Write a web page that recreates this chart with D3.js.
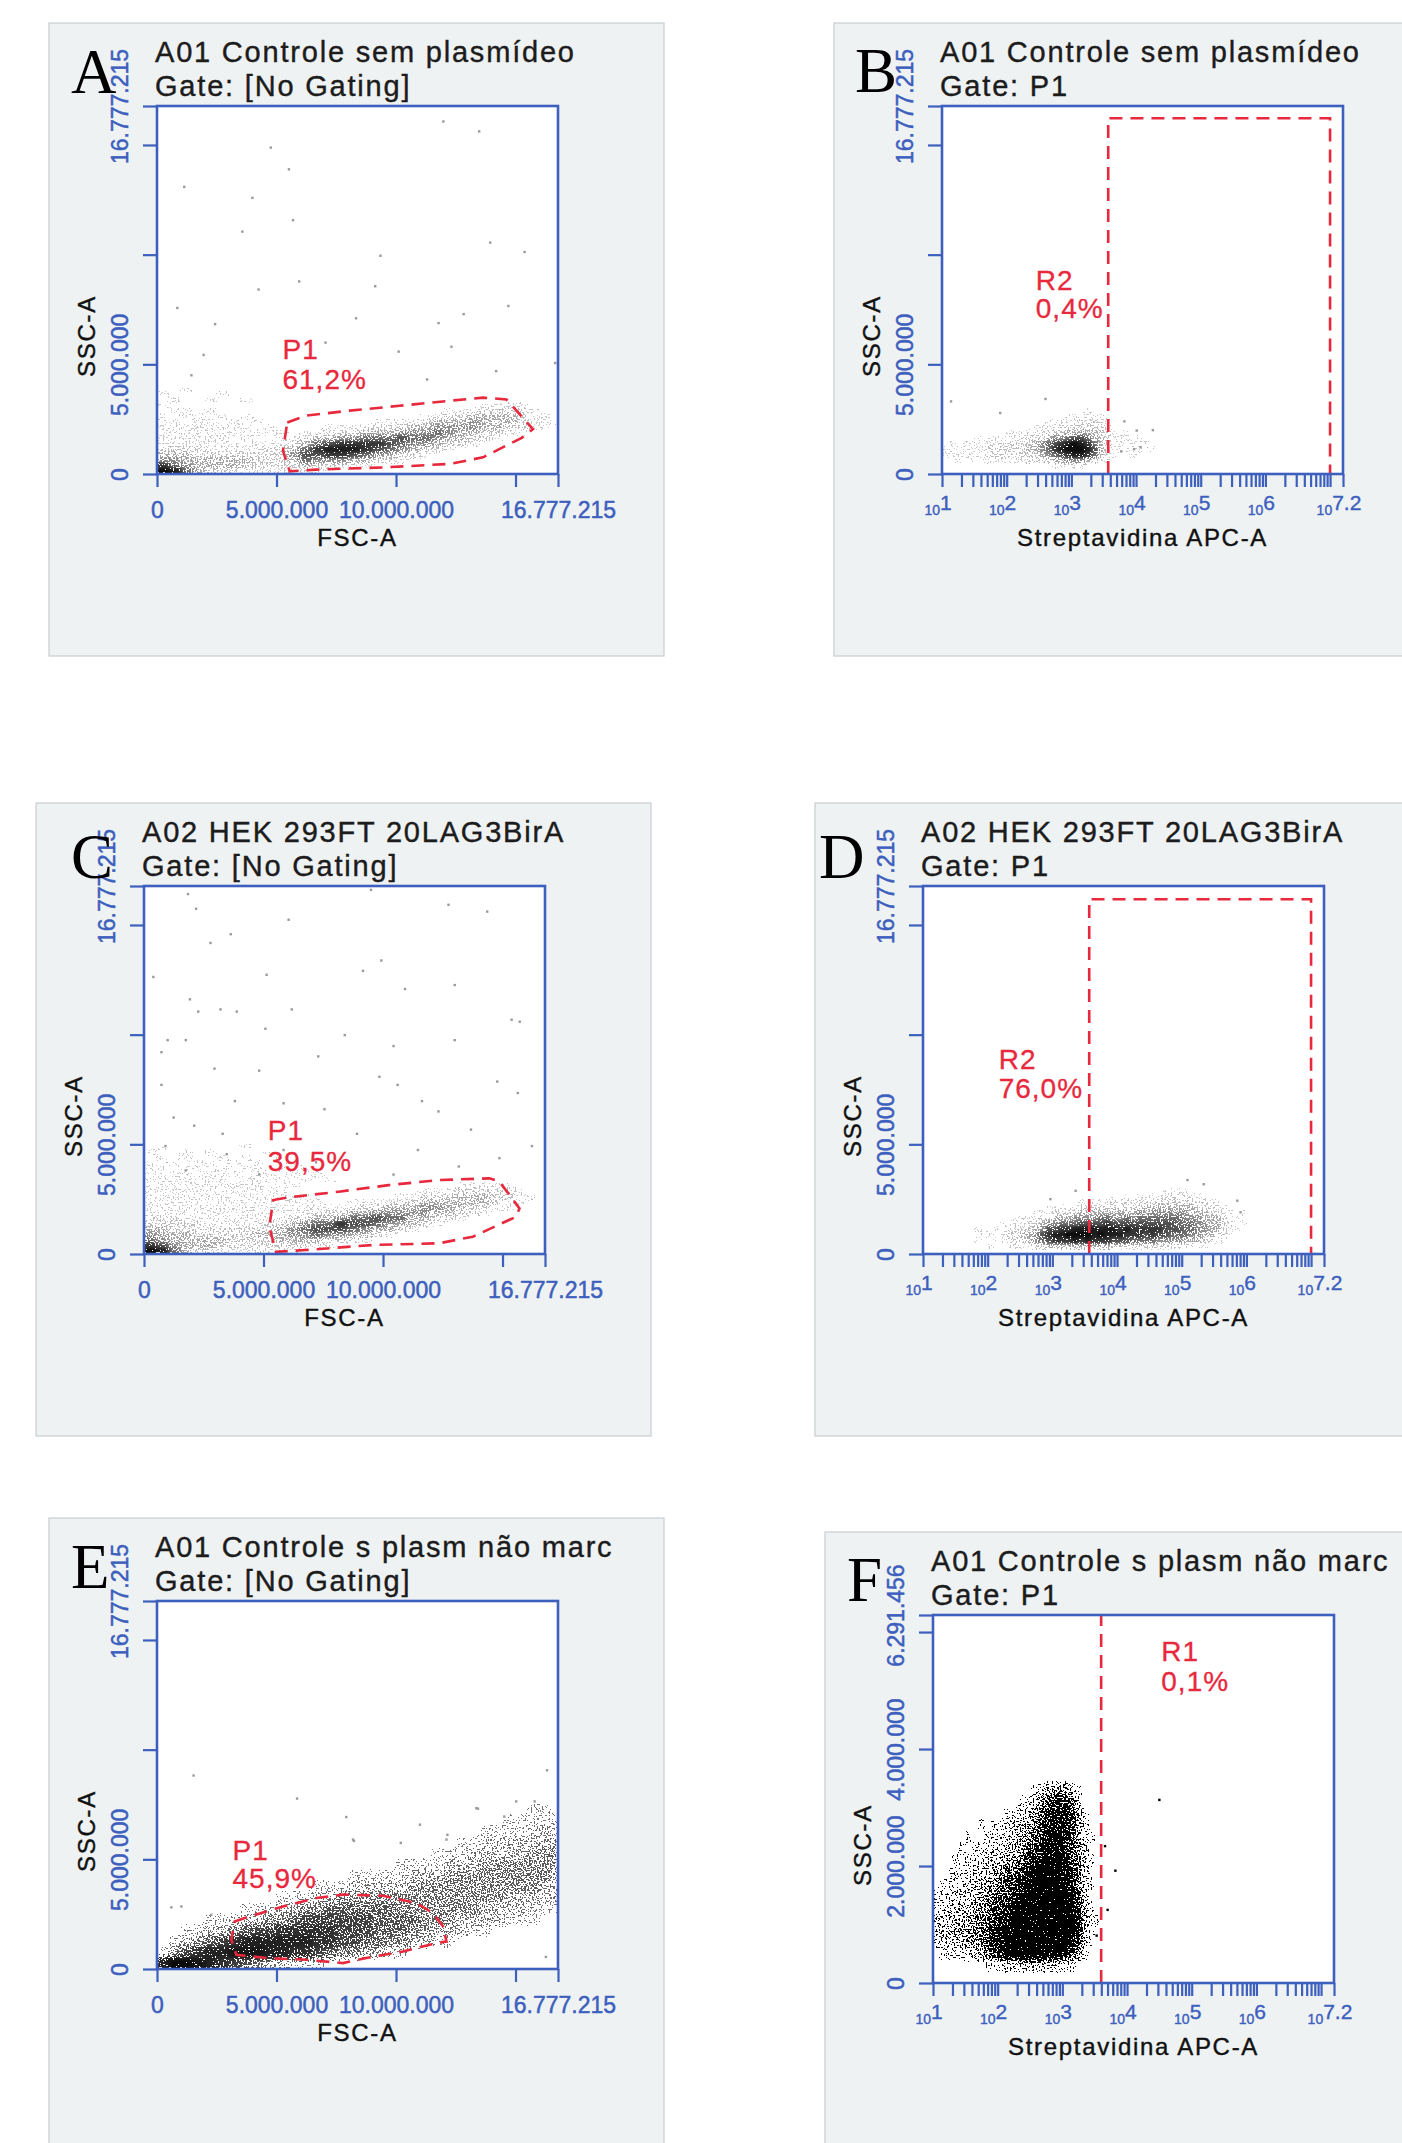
<!DOCTYPE html>
<html>
<head>
<meta charset="utf-8">
<title>Citometria - Streptavidina APC</title>
<script src="https://cdn.jsdelivr.net/npm/d3@7"></script>
<style>
  html, body { margin: 0; padding: 0; background: #ffffff; }
  #chart svg { display: block; }
</style>
</head>
<body>
<div id="chart"></div>
<script>
// ---------- values ----------
const panelLetters = ["A", "B", "C", "D", "E", "F"];
const sampleNames = ["A01 Controle sem plasmídeo", "A01 Controle sem plasmídeo",
                     "A02 HEK 293FT 20LAG3BirA", "A02 HEK 293FT 20LAG3BirA",
                     "A01 Controle s plasm não marc", "A01 Controle s plasm não marc"];
const gateNames = ["Gate: [No Gating]", "Gate: P1", "Gate: [No Gating]", "Gate: P1", "Gate: [No Gating]", "Gate: P1"];
const xTitles = ["FSC-A", "Streptavidina APC-A", "FSC-A", "Streptavidina APC-A", "FSC-A", "Streptavidina APC-A"];
const yTitle = "SSC-A";

const fullScale = 16777215;          // 24 bit channel max
const fSscMax = 6291456;             // panel F y max
const linTicks = [0, 5000000, 10000000, 15000000, 16777215];
const linXLabels = [0, 5000000, 10000000, 16777215];
const linYLabels = [0, 5000000, 16777215];
const fYTicks = [0, 2000000, 4000000, 6000000, 6291456];
const fYLabels = [0, 2000000, 4000000, 6291456];
const logExpLabels = ["1", "2", "3", "4", "5", "6", "7.2"];
const logTop = 7.2;

// gate regions (millions, or [log10 x, millions])
const gateA = [[5.45,2.35],[6.25,2.66],[8.06,2.89],[10.15,3.11],[12.25,3.34],[13.64,3.48],[14.62,3.40],
               [15.73,2.05],[15.26,1.65],[13.64,0.76],[12.25,0.46],[9.46,0.30],[6.67,0.20],[5.55,0.12],[5.27,1.06]];
const gateC = [[5.41,2.46],[6.05,2.58],[8.14,2.84],[10.23,3.14],[12.35,3.37],[14.45,3.45],[14.87,3.30],
               [15.71,2.08],[15.57,1.70],[13.76,0.79],[12.35,0.49],[9.56,0.41],[6.78,0.18],[5.52,0.10],[5.24,1.24]];
const gateE = [[3.25,2.17],[3.88,2.40],[5.27,2.85],[6.67,3.24],[7.78,3.39],[9.46,3.34],[10.85,3.01],[11.55,2.55],
               [11.97,1.94],[12.11,1.26],[11.41,1.11],[10.29,0.80],[8.76,0.50],[7.78,0.27],[6.25,0.42],[4.58,0.50],
               [3.32,0.65],[3.11,1.34]];
const gateR2B = [3.57, 7.0, 16.22];   // from, to (log10), top (millions)
const gateR2D = [3.57, 7.0, 16.17];
const gateR1F = [3.60];

const gateLabelText = [["P1","61,2%"], ["R2","0,4%"], ["P1","39,5%"], ["R2","76,0%"], ["P1","45,9%"], ["R1","0,1%"]];
const gateLabelPos = [[5.25,5.24,3.87], [2.45,8.41,7.10], [5.18,5.20,3.80], [2.17,8.45,7.12], [3.16,4.98,3.69], [4.53,5.51,5.00]];

// density grids, top row first, one char per bin (0 empty .. 9 black)
// A, C: FSC bins 0.5M, SSC bins 0.25M
const densA = [
  "0010000000000000000000000000000000",
  "1000010000000000000000000000000000",
  "0100100100000000000000000000000000",
  "1000000000000000000000000001111000",
  "0110100000000000000000001112222100",
  "1011010100000000000000112233332110",
  "1101101010000000001111233343332111",
  "1111111101000011112223344443322110",
  "1111111111101122233344454332211000",
  "1111110100112334455565543322100000",
  "1111111111123567777654432210000000",
  "2222111112235788876543221000000000",
  "3332222222246677654322100000000000",
  "4433333322235444332210000000000000",
  "7543333222223222110000000000000000",
  "9853221111111100000000000000000000"];
const densC = [
  "0100000010000000000000000000000000",
  "1001010000100000000000000000000000",
  "0101001010010000000000000000000000",
  "1010110101001000000000000000000000",
  "1101101011010100000000000000000000",
  "1111011101101010000000000000000000",
  "1111111011110101000000000000000000",
  "1111111111011000000000000011111000",
  "1111111111110000000000011122222100",
  "1111111111111100000001122233322110",
  "1111111111111110011112233333321100",
  "1111111111111111112233344332211000",
  "1111111111111122233444443322100000",
  "2221111111112233455655332210000000",
  "2222211111223455766543321000000000",
  "3322222222234566654332100000000000",
  "4333222223334454433210000000000000",
  "5433333222233332221000000000000000",
  "7643332222222211000000000000000000",
  "9853221111111000000000000000000000"];
// E: FSC bins 0.5M, SSC bins 0.5M
const densE = [
  "0000000000000000000000000000000110",
  "0000000000000000000000000000011111",
  "0000000000000000000000000001111121",
  "0000000000000000000000000111222222",
  "0000000000000000000000011122222333",
  "0000000000000000000011112223333333",
  "0000000000000000111112223333333332",
  "0000000000000111222223333333333322",
  "0000000000111223333333333333322222",
  "0000000111223344444433333332222111",
  "0000111223345555554444333222211100",
  "0011223455666665554443322211000000",
  "0123456777777665544332211000000000",
  "1356778887766543322110000000000000",
  "7998765432211100000000000000000000"];
// B: APC bins 0.1 decade from 10^1.0, SSC bins 0.25M
const densB = [
  "0000000000000000000000100000000000",
  "0000000000000000000111111000000000",
  "0000000000000000111112221100000000",
  "0000000000000011112222222100000000",
  "0000000000111112222333332210100000",
  "0000010111112222344566533211101000",
  "0101111112222234567898753211010100",
  "1111111222222334578999863211101010",
  "1111111222222223456788753210010000",
  "0010101111111122233444321100000000",
  "0000000000000000011111100000000000",
  "0000000000000000000000000000000000"];
// D: APC bins 0.1 decade from 10^1.8, SSC bins 0.25M
const densD = [
  "000000000000000000000000000001111000000000",
  "000000000000000000000101011111212111000000",
  "000000000000000011111212122222222222110000",
  "000000000001111122222222223333333322221000",
  "000000000111222233333333343444444333221101",
  "000000111122333444455445455555554443332110",
  "000011112234455566667666666666655544332201",
  "100101222346677888888878777776665544332110",
  "011012233467889999898887776766555443322100",
  "100112223456777878777666555544443332211000",
  "001001111223333333333222222222111111000000",
  "000000000000000000000000000000000000000000"];
// F: APC bins 0.1 decade from 10^1.0, SSC bins 0.2M
const densF = [
  "000000000000000123343210000",
  "000000000000011234565420000",
  "000000000001112345666531000",
  "000000010111223356666531000",
  "000001001112233456776531100",
  "000010111222334567776532000",
  "000101112223345678887542100",
  "001111222334456789987642000",
  "011112223345567899998642100",
  "111222233455678999998752000",
  "112222334556789999999753100",
  "122223344567899999999863110",
  "222333445678999999999863100",
  "222223345678999999998752100",
  "011112234567888888876531000",
  "000000001112222222221100000",
  "000000000000000000000000000"];

// isolated events outside the clouds
const outA = [[11.98,16.07],[13.48,15.62],[4.76,14.88],[5.52,13.89],[1.14,13.09],[3.99,12.59],[5.69,11.57],
  [3.57,11.05],[9.35,9.95],[13.94,10.55],[15.38,10.12],[5.95,8.78],[4.25,8.41],[9.13,8.56],[0.85,7.57],
  [14.7,7.66],[12.83,7.29],[11.78,6.88],[8.33,7.1],[2.43,6.83],[12.32,5.8],[10.11,5.58],[7.05,5.99],
  [16.66,5.06],[1.95,5.43],[1.44,4.5],[14.19,4.69],[11.3,4.31]];
const outB = [[1.14,3.31],[2.6,3.42],[4.26,2.0],[4.01,1.98],[4.07,1.22],[3.97,1.13],[3.77,1.03],[3.82,2.4],[1.9,2.78]];
const outC = [[1.84,16.41],[2.18,15.74],[6.05,15.24],[9.5,16.6],[14.36,15.61],[12.74,15.92],[2.78,14.18],[3.63,14.58],
  [15.72,10.59],[15.38,10.68],[0.39,12.63],[5.13,12.73],[9.16,12.91],[9.93,13.38],[13.0,12.26],[10.92,12.08],
  [1.92,11.61],[2.27,11.05],[3.2,11.15],[3.88,11.05],[6.18,11.15],[8.4,9.98],[5.08,10.27],[1.75,9.75],[0.99,9.75],
  [13.0,9.75],[10.44,9.48],[0.73,9.2],[7.29,9.01],[2.95,8.45],[4.82,8.36],[9.85,8.08],[10.61,7.71],[14.78,7.86],
  [15.64,7.34],[3.8,6.97],[5.84,6.87],[7.55,6.6],[11.63,6.97],[12.32,6.5],[1.24,6.22],[0.73,7.71],[2.1,5.85],
  [8.91,5.48],[13.68,5.67],[16.23,4.92],[14.87,4.37],[11.46,4.74],[5.84,4.74],[3.46,4.55],[3.29,5.48],[0.9,4.92],
  [10.44,3.62],[13.17,3.99],[7.2,4.18],[4.82,3.62],[1.75,3.81]];
const outD = [[5.09,3.37],[5.91,1.9],[5.86,2.43],[5.34,3.18],[3.36,2.88],[2.97,2.5]];
const outE = [[1.53,8.82],[5.86,7.77],[16.32,9.06],[13.43,7.31],[15.8,7.64],[14.53,6.95],[12.15,6.12],[10.2,5.75],
  [8.24,5.84],[0.6,2.81],[1.02,2.85],[2.27,2.47],[16.27,0.55],[11.0,6.58],[12.11,5.9],[13.36,7.33],[15.03,7.64],
  [8.2,5.9],[7.92,6.93]];
const outF = [[3.66,2.34],[3.82,1.92],[3.7,1.25],[3.53,0.81],[4.5,3.13]];

// ---------- layout / style ----------
const W = 401, H = 368;
const boxes = [
  {left: 157, top: 106, lx: -86, ly: -13},
  {left: 942, top: 106, lx: -87, ly: -14},
  {left: 144, top: 886, lx: -73, ly: -8},
  {left: 923, top: 886, lx: -104, ly: -8},
  {left: 157, top: 1601, lx: -86, ly: -13},
  {left: 933, top: 1615, lx: -86, ly: -14}
];
const blue = "#3d5fbd", red = "#e8283c";
const font = "'Liberation Sans', Arial, sans-serif";
// dot colour and share of pixels lit, per density level
const grayDots  = ["#fff","#c8c8c8","#bcbcbc","#a6a6a6","#8c8c8c","#6c6c6c","#505050","#363636","#1e1e1e","#0c0c0c"];
const darkDots  = ["#fff","#6e6e6e","#666666","#5a5a5a","#4c4c4c","#3e3e3e","#303030","#222222","#161616","#0a0a0a"];
const blackDots = ["#000","#000","#000","#000","#000","#000","#000","#000","#000","#000"];
const cover     = [0, 0.14, 0.28, 0.41, 0.53, 0.64, 0.75, 0.86, 0.95, 1.0];
const coverF    = [0, 0.12, 0.24, 0.36, 0.48, 0.60, 0.74, 0.86, 0.96, 1.0];

const panels = [
  {kind: "lin", dens: densA, x0: 0, dx: 0.5, dy: 0.25, out: outA, poly: gateA, dots: grayDots, cov: cover, blur: "2.6 1.6"},
  {kind: "log", dens: densB, x0: 1.0, dx: 0.1, dy: 0.25, out: outB, rect: gateR2B, dots: grayDots, cov: cover, blur: "1.6 1.6"},
  {kind: "lin", dens: densC, x0: 0, dx: 0.5, dy: 0.25, out: outC, poly: gateC, dots: grayDots, cov: cover, blur: "2.6 1.6"},
  {kind: "log", dens: densD, x0: 1.8, dx: 0.1, dy: 0.25, out: outD, rect: gateR2D, dots: grayDots, cov: cover, blur: "1.6 1.6"},
  {kind: "lin", dens: densE, x0: 0, dx: 0.5, dy: 0.5, out: outE, poly: gateE, dots: darkDots, cov: cover, blur: "2.8 2.8"},
  {kind: "log", dens: densF, x0: 1.0, dx: 0.1, dy: 0.2, out: outF, vline: gateR1F, ymax: fSscMax,
   dots: blackDots, cov: coverF, blur: "1.6 2.6", black: true}
];

const fmt = d3.formatLocale({decimal: ",", thousands: ".", grouping: [3], currency: ["", ""]}).format(",d");

const svg = d3.select("#chart").append("svg")
    .attr("width", 1402).attr("height", 2143);
const defs = svg.append("defs");

// smooth the binned density, then light single pixels against a noise field
function addDither(id, blur, seed) {
  const f = defs.append("filter").attr("id", id)
      .attr("filterUnits", "userSpaceOnUse")
      .attr("x", 0).attr("y", 0).attr("width", W).attr("height", H)
      .attr("color-interpolation-filters", "sRGB");
  f.append("feGaussianBlur").attr("in", "SourceGraphic").attr("stdDeviation", blur).attr("result", "blur");
  f.append("feColorMatrix").attr("in", "blur").attr("type", "matrix")
      .attr("values", "0 0 0 1 0  0 0 0 1 0  0 0 0 1 0  0 0 0 0 1").attr("result", "cov");
  f.append("feTurbulence").attr("type", "fractalNoise").attr("baseFrequency", 0.62)
      .attr("numOctaves", 1).attr("seed", seed).attr("result", "tur");
  f.append("feColorMatrix").attr("in", "tur").attr("type", "matrix")
      .attr("values", "0 0 0 -2.6 1.92  0 0 0 -2.6 1.92  0 0 0 -2.6 1.92  0 0 0 0 1").attr("result", "inv");
  f.append("feComposite").attr("in", "cov").attr("in2", "inv").attr("operator", "arithmetic")
      .attr("k1", 0).attr("k2", 1).attr("k3", 1).attr("k4", -1).attr("result", "diff");
  const ct = f.append("feComponentTransfer").attr("in", "diff").attr("result", "step");
  ct.append("feFuncR").attr("type", "discrete").attr("tableValues", "0 " + d3.range(19).map(() => 1).join(" "));
  f.append("feColorMatrix").attr("in", "step").attr("type", "matrix")
      .attr("values", "0 0 0 0 0  0 0 0 0 0  0 0 0 0 0  1 0 0 0 0").attr("result", "mask");
  f.append("feColorMatrix").attr("in", "blur").attr("type", "matrix")
      .attr("values", "1 0 0 0 0  0 1 0 0 0  0 0 1 0 0  0 0 0 0 1").attr("result", "solid");
  f.append("feComposite").attr("in", "solid").attr("in2", "mask").attr("operator", "in");
}

panels.forEach((p, i) => {
  const b = boxes[i];
  const yMax = p.ymax || fullScale;
  const x = p.kind === "lin"
      ? d3.scaleLinear().domain([0, fullScale]).range([0, W])
      : d3.scaleLog().domain([10, Math.pow(10, logTop)]).range([0, W]);
  const y = d3.scaleLinear().domain([0, yMax]).range([H, 0]);
  const xv = v => p.kind === "lin" ? v * 1e6 : Math.pow(10, v);   // data units -> channel value

  // grey card behind every plot
  svg.append("rect")
      .attr("x", b.left - 108).attr("y", b.top - 83)
      .attr("width", W + 214).attr("height", H + 265)
      .attr("fill", "#eff2f3").attr("stroke", "#c9cdd0").attr("stroke-width", 1.2);

  const g = svg.append("g").attr("transform", `translate(${b.left},${b.top})`);

  defs.append("clipPath").attr("id", "clip" + i)
    .append("rect").attr("width", W).attr("height", H);
  addDither("dith" + i, p.blur, 7 + i * 5);

  g.append("rect").attr("width", W).attr("height", H).attr("fill", "#ffffff");

  const plot = g.append("g").attr("clip-path", `url(#clip${i})`);

  // density cells
  const cells = [];
  const nRows = p.dens.length;
  p.dens.forEach((row, r) => {
    const level = nRows - 1 - r;
    row.split("").forEach((ch, c) => {
      const v = +ch;
      if (!v) return;
      cells.push({xa: xv(p.x0 + c * p.dx), xb: xv(p.x0 + (c + 1) * p.dx),
                  ya: level * p.dy * 1e6, yb: (level + 1) * p.dy * 1e6, v: v});
    });
  });
  plot.append("g").attr("filter", `url(#dith${i})`)
    .selectAll("rect").data(cells).enter().append("rect")
      .attr("x", d => x(d.xa))
      .attr("y", d => y(d.yb))
      .attr("width", d => x(Math.min(d.xb, x.domain()[1])) - x(d.xa))
      .attr("height", d => y(d.ya) - y(d.yb))
      .attr("fill", d => p.dots[d.v])
      .attr("fill-opacity", d => p.cov[d.v]);

  // single events
  plot.append("g").selectAll("rect").data(p.out).enter().append("rect")
      .attr("x", d => x(xv(d[0])) - 1.2)
      .attr("y", d => y(d[1] * 1e6) - 1.2)
      .attr("width", 2.4).attr("height", 2.4)
      .attr("fill", p.black ? "#000" : "#9a9a9a");

  // gates
  const gateStyle = sel => sel.attr("fill", "none").attr("stroke", red)
      .attr("stroke-width", 2.6).attr("stroke-dasharray", "13,8");
  if (p.poly) {
    const line = d3.line().x(d => x(xv(d[0]))).y(d => y(d[1] * 1e6)).curve(d3.curveLinearClosed);
    plot.append("path").attr("d", line(p.poly)).call(gateStyle);
  }
  if (p.rect) {
    const xa = x(xv(p.rect[0])), xb = x(xv(p.rect[1])), yt = y(p.rect[2] * 1e6);
    plot.append("path").attr("d", `M${xa},${H}V${yt}H${xb}V${H}`).call(gateStyle);
  }
  if (p.vline) {
    const xa = x(xv(p.vline[0]));
    plot.append("path").attr("d", `M${xa},${H}V0`).call(gateStyle);
  }

  // gate labels
  const lp = gateLabelPos[i];
  const lab = g.append("text")
      .attr("font-family", font)
      .attr("font-size", 28).attr("letter-spacing", 1).attr("fill", red)
      .attr("stroke", red).attr("stroke-width", 0.3);
  lab.append("tspan").attr("x", x(xv(lp[0]))).attr("y", y(lp[1] * 1e6)).text(gateLabelText[i][0]);
  lab.append("tspan").attr("x", x(xv(lp[0]))).attr("y", y(lp[2] * 1e6)).text(gateLabelText[i][1]);

  // frame
  g.append("rect").attr("width", W).attr("height", H)
      .attr("fill", "none").attr("stroke", blue).attr("stroke-width", 2.6);

  // x axis
  let xAxis;
  if (p.kind === "lin") {
    xAxis = d3.axisBottom(x).tickValues(linTicks).tickSize(13).tickSizeOuter(0)
        .tickFormat(d => linXLabels.includes(d) ? fmt(d) : "");
  } else {
    const tv = x.ticks().concat([Math.pow(10, logTop)]);
    xAxis = d3.axisBottom(x).tickValues(tv).tickSize(13).tickSizeOuter(0).tickFormat(() => "");
  }
  const gx = g.append("g").attr("transform", `translate(0,${H})`).call(xAxis);
  gx.select(".domain").remove();
  gx.selectAll("line").attr("stroke", blue).attr("stroke-width", 2.2);
  gx.selectAll("text")
      .attr("y", 44).attr("dy", 0)
      .attr("font-family", font)
      .attr("font-size", 23).attr("fill", blue)
      .attr("stroke", blue).attr("stroke-width", 0.5);

  if (p.kind === "log") {
    const lg = g.append("g").attr("transform", `translate(0,${H})`);
    logExpLabels.forEach(e => {
      const t = lg.append("text")
          .attr("x", x(Math.pow(10, +e)) - 4).attr("y", 41)
          .attr("text-anchor", "middle")
          .attr("font-family", font)
          .attr("fill", blue).attr("stroke", blue).attr("stroke-width", 0.4);
      t.append("tspan").attr("font-size", 14).text("10");
      t.append("tspan").attr("font-size", 21).attr("dy", -5).text(e);
    });
  }

  // y axis
  const yTicks = p.ymax ? fYTicks : linTicks;
  const yLabels = p.ymax ? fYLabels : linYLabels;
  const gy = g.append("g").call(d3.axisLeft(y).tickValues(yTicks).tickSize(14).tickSizeOuter(0)
      .tickFormat(d => yLabels.includes(d) ? fmt(d) : ""));
  gy.select(".domain").remove();
  gy.selectAll("line").attr("stroke", blue).attr("stroke-width", 2.2);
  gy.selectAll("text")
      .attr("x", 0).attr("y", -29).attr("dy", 0)
      .attr("transform", "rotate(-90)")
      .attr("text-anchor", "middle")
      .attr("font-family", font)
      .attr("font-size", 23).attr("fill", blue)
      .attr("stroke", blue).attr("stroke-width", 0.5);

  // axis titles
  g.append("text").attr("x", W / 2).attr("y", H + 72)
      .attr("text-anchor", "middle")
      .attr("font-family", font)
      .attr("font-size", 24).attr("letter-spacing", 1.7).attr("fill", "#111")
      .attr("stroke", "#111").attr("stroke-width", 0.4)
      .text(xTitles[i]);
  g.append("text").attr("transform", "translate(-62,230) rotate(-90)")
      .attr("text-anchor", "middle")
      .attr("font-family", font)
      .attr("font-size", 24).attr("letter-spacing", 1.7).attr("fill", "#111")
      .attr("stroke", "#111").attr("stroke-width", 0.4)
      .text(yTitle);

  // sample header
  const hd = g.append("text")
      .attr("font-family", font)
      .attr("font-size", 29).attr("letter-spacing", 1.8).attr("fill", "#1c1c1c")
      .attr("stroke", "#1c1c1c").attr("stroke-width", 0.4);
  hd.append("tspan").attr("x", -2).attr("y", -44).text(sampleNames[i]);
  hd.append("tspan").attr("x", -2).attr("y", -10).text(gateNames[i]);

  // panel letter
  g.append("text").attr("x", b.lx).attr("y", b.ly)
      .attr("font-family", "'Liberation Serif', 'Times New Roman', serif")
      .attr("font-size", 63).attr("fill", "#000")
      .text(panelLetters[i]);
});
</script>
</body>
</html>
